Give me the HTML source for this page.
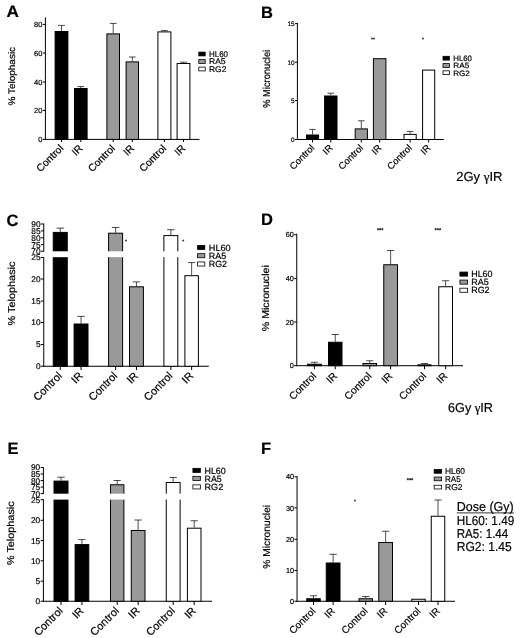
<!DOCTYPE html>
<html><head><meta charset="utf-8"><title>Figure</title>
<style>
html,body{margin:0;padding:0;background:#fff;-webkit-font-smoothing:antialiased;}
svg{display:block;will-change:transform;transform:translateZ(0);font-family:'Liberation Sans', Arial, Helvetica, sans-serif;}
text{stroke:#000;stroke-width:0.2px;text-rendering:geometricPrecision;}
</style></head>
<body>
<svg width="520" height="638" viewBox="0 0 520 638">
<rect x="0" y="0" width="520" height="638" fill="#fff"/>
<text x="6.6" y="17.2" font-size="16.5" text-anchor="start" font-weight="bold" fill="#000" textLength="12.4" lengthAdjust="spacingAndGlyphs">A</text>
<line x1="45.4" y1="17.4" x2="45.4" y2="139.9" stroke="#000" stroke-width="1.0"/>
<line x1="44.9" y1="139.4" x2="199.5" y2="139.4" stroke="#000" stroke-width="1.0"/>
<line x1="42.9" y1="24.4" x2="45.4" y2="24.4" stroke="#000" stroke-width="1.0"/>
<text x="42.4" y="27.099999999999998" font-size="7.5" text-anchor="end" font-weight="normal" fill="#000">80</text>
<line x1="42.9" y1="53" x2="45.4" y2="53" stroke="#000" stroke-width="1.0"/>
<text x="42.4" y="55.7" font-size="7.5" text-anchor="end" font-weight="normal" fill="#000">60</text>
<line x1="42.9" y1="82" x2="45.4" y2="82" stroke="#000" stroke-width="1.0"/>
<text x="42.4" y="84.7" font-size="7.5" text-anchor="end" font-weight="normal" fill="#000">40</text>
<line x1="42.9" y1="110.4" x2="45.4" y2="110.4" stroke="#000" stroke-width="1.0"/>
<text x="42.4" y="113.10000000000001" font-size="7.5" text-anchor="end" font-weight="normal" fill="#000">20</text>
<line x1="42.9" y1="139.4" x2="45.4" y2="139.4" stroke="#000" stroke-width="1.0"/>
<text x="42.4" y="142.1" font-size="7.5" text-anchor="end" font-weight="normal" fill="#000">0</text>
<text x="15.4" y="76.25" font-size="9.5" text-anchor="middle" font-weight="normal" fill="#000" transform="rotate(-90 15.4 76.25)" textLength="58.7" lengthAdjust="spacingAndGlyphs">% Telophasic</text>
<line x1="61.5" y1="31" x2="61.5" y2="25.4" stroke="#000" stroke-width="0.7"/>
<line x1="58.05" y1="25.4" x2="64.95" y2="25.4" stroke="#000" stroke-width="0.7"/>
<rect x="55.1" y="31.5" width="12.800000000000004" height="107.9" fill="#000" stroke="#000" stroke-width="1.0"/>
<line x1="80.8" y1="88" x2="80.8" y2="86.6" stroke="#000" stroke-width="0.7"/>
<line x1="77.4" y1="86.6" x2="84.19999999999999" y2="86.6" stroke="#000" stroke-width="0.7"/>
<rect x="74.5" y="88.5" width="12.599999999999994" height="50.900000000000006" fill="#000" stroke="#000" stroke-width="1.0"/>
<line x1="113.2" y1="33.4" x2="113.2" y2="23.4" stroke="#000" stroke-width="0.7"/>
<line x1="109.80000000000001" y1="23.4" x2="116.6" y2="23.4" stroke="#000" stroke-width="0.7"/>
<rect x="106.9" y="33.9" width="12.599999999999994" height="105.5" fill="#999999" stroke="#000" stroke-width="1.0"/>
<line x1="132.3" y1="61.4" x2="132.3" y2="57" stroke="#000" stroke-width="0.7"/>
<line x1="128.95000000000002" y1="57" x2="135.65" y2="57" stroke="#000" stroke-width="0.7"/>
<rect x="126.1" y="61.9" width="12.400000000000006" height="77.5" fill="#999999" stroke="#000" stroke-width="1.0"/>
<line x1="164.4" y1="31.4" x2="164.4" y2="30.6" stroke="#000" stroke-width="0.7"/>
<line x1="160.9" y1="30.6" x2="167.9" y2="30.6" stroke="#000" stroke-width="0.7"/>
<rect x="157.9" y="31.9" width="13.0" height="107.5" fill="#fff" stroke="#000" stroke-width="1.0"/>
<line x1="183.5" y1="63" x2="183.5" y2="62.2" stroke="#000" stroke-width="0.7"/>
<line x1="180.05" y1="62.2" x2="186.95" y2="62.2" stroke="#000" stroke-width="0.7"/>
<rect x="177.1" y="63.5" width="12.800000000000011" height="75.9" fill="#fff" stroke="#000" stroke-width="1.0"/>
<line x1="61.5" y1="139.4" x2="61.5" y2="142" stroke="#000" stroke-width="1.0"/>
<line x1="80.8" y1="139.4" x2="80.8" y2="142" stroke="#000" stroke-width="1.0"/>
<line x1="113.2" y1="139.4" x2="113.2" y2="142" stroke="#000" stroke-width="1.0"/>
<line x1="132.3" y1="139.4" x2="132.3" y2="142" stroke="#000" stroke-width="1.0"/>
<line x1="164.4" y1="139.4" x2="164.4" y2="142" stroke="#000" stroke-width="1.0"/>
<line x1="183.5" y1="139.4" x2="183.5" y2="142" stroke="#000" stroke-width="1.0"/>
<text x="64.0" y="149.0" font-size="10.3" text-anchor="end" font-weight="normal" fill="#000" transform="rotate(-45 64.0 149.0)">Control</text>
<text x="83.3" y="149.0" font-size="10.3" text-anchor="end" font-weight="normal" fill="#000" transform="rotate(-45 83.3 149.0)">IR</text>
<text x="115.7" y="149.0" font-size="10.3" text-anchor="end" font-weight="normal" fill="#000" transform="rotate(-45 115.7 149.0)">Control</text>
<text x="134.8" y="149.0" font-size="10.3" text-anchor="end" font-weight="normal" fill="#000" transform="rotate(-45 134.8 149.0)">IR</text>
<text x="166.9" y="149.0" font-size="10.3" text-anchor="end" font-weight="normal" fill="#000" transform="rotate(-45 166.9 149.0)">Control</text>
<text x="186.0" y="149.0" font-size="10.3" text-anchor="end" font-weight="normal" fill="#000" transform="rotate(-45 186.0 149.0)">IR</text>
<rect x="198.8" y="52.1" width="6.4" height="3.8" fill="#000" stroke="#000" stroke-width="0.8"/>
<text x="209" y="56.988" font-size="8.3" text-anchor="start" font-weight="normal" fill="#000" textLength="19" lengthAdjust="spacingAndGlyphs">HL60</text>
<rect x="198.8" y="59.6" width="6.4" height="3.8" fill="#999999" stroke="#000" stroke-width="0.8"/>
<text x="209" y="64.488" font-size="8.3" text-anchor="start" font-weight="normal" fill="#000" textLength="16.6" lengthAdjust="spacingAndGlyphs">RA5</text>
<rect x="198.8" y="67.10000000000001" width="6.4" height="3.8" fill="#fff" stroke="#000" stroke-width="0.8"/>
<text x="209" y="71.988" font-size="8.3" text-anchor="start" font-weight="normal" fill="#000" textLength="17.4" lengthAdjust="spacingAndGlyphs">RG2</text>
<text x="261" y="17.6" font-size="16.5" text-anchor="start" font-weight="bold" fill="#000">B</text>
<line x1="297.4" y1="23" x2="297.4" y2="140.0" stroke="#000" stroke-width="1.0"/>
<line x1="296.9" y1="139.5" x2="443.8" y2="139.5" stroke="#000" stroke-width="1.0"/>
<line x1="295.0" y1="23.6" x2="297.4" y2="23.6" stroke="#000" stroke-width="1.0"/>
<text x="294.5" y="25.904" font-size="6.4" text-anchor="end" font-weight="normal" fill="#000">15</text>
<line x1="295.0" y1="62.2" x2="297.4" y2="62.2" stroke="#000" stroke-width="1.0"/>
<text x="294.5" y="64.504" font-size="6.4" text-anchor="end" font-weight="normal" fill="#000">10</text>
<line x1="295.0" y1="100.6" x2="297.4" y2="100.6" stroke="#000" stroke-width="1.0"/>
<text x="294.5" y="102.904" font-size="6.4" text-anchor="end" font-weight="normal" fill="#000">5</text>
<line x1="295.0" y1="139.5" x2="297.4" y2="139.5" stroke="#000" stroke-width="1.0"/>
<text x="294.5" y="141.804" font-size="6.4" text-anchor="end" font-weight="normal" fill="#000">0</text>
<text x="269.6" y="78.8" font-size="10" text-anchor="middle" font-weight="normal" fill="#000" transform="rotate(-90 269.6 78.8)" textLength="58" lengthAdjust="spacingAndGlyphs">% Micronuclei</text>
<line x1="312.55" y1="134.5" x2="312.55" y2="129.4" stroke="#000" stroke-width="0.7"/>
<line x1="309.275" y1="129.4" x2="315.82500000000005" y2="129.4" stroke="#000" stroke-width="0.7"/>
<rect x="306.5" y="135.0" width="12.100000000000023" height="4.5" fill="#000" stroke="#000" stroke-width="1.0"/>
<line x1="330.8" y1="95.5" x2="330.8" y2="93.2" stroke="#000" stroke-width="0.7"/>
<line x1="327.45000000000005" y1="93.2" x2="334.15" y2="93.2" stroke="#000" stroke-width="0.7"/>
<rect x="324.6" y="96.0" width="12.399999999999977" height="43.5" fill="#000" stroke="#000" stroke-width="1.0"/>
<line x1="361.29999999999995" y1="128.4" x2="361.29999999999995" y2="120.8" stroke="#000" stroke-width="0.7"/>
<line x1="357.99999999999994" y1="120.8" x2="364.59999999999997" y2="120.8" stroke="#000" stroke-width="0.7"/>
<rect x="355.2" y="128.9" width="12.199999999999989" height="10.599999999999994" fill="#999999" stroke="#000" stroke-width="1.0"/>
<rect x="373.4" y="58.7" width="12.5" height="80.8" fill="#999999" stroke="#000" stroke-width="1.0"/>
<line x1="410.1" y1="133.9" x2="410.1" y2="131.4" stroke="#000" stroke-width="0.7"/>
<line x1="406.8" y1="131.4" x2="413.40000000000003" y2="131.4" stroke="#000" stroke-width="0.7"/>
<rect x="404.0" y="134.4" width="12.199999999999989" height="5.099999999999994" fill="#fff" stroke="#000" stroke-width="1.0"/>
<rect x="422.6" y="70.1" width="12.099999999999966" height="69.4" fill="#fff" stroke="#000" stroke-width="1.0"/>
<line x1="312.55" y1="139.5" x2="312.55" y2="142.5" stroke="#000" stroke-width="1.0"/>
<line x1="330.8" y1="139.5" x2="330.8" y2="142.5" stroke="#000" stroke-width="1.0"/>
<line x1="361.29999999999995" y1="139.5" x2="361.29999999999995" y2="142.5" stroke="#000" stroke-width="1.0"/>
<line x1="379.65" y1="139.5" x2="379.65" y2="142.5" stroke="#000" stroke-width="1.0"/>
<line x1="410.1" y1="139.5" x2="410.1" y2="142.5" stroke="#000" stroke-width="1.0"/>
<line x1="428.65" y1="139.5" x2="428.65" y2="142.5" stroke="#000" stroke-width="1.0"/>
<text x="315.05" y="148.5" font-size="9.5" text-anchor="end" font-weight="normal" fill="#000" transform="rotate(-45 315.05 148.5)">Control</text>
<text x="333.3" y="148.5" font-size="9.5" text-anchor="end" font-weight="normal" fill="#000" transform="rotate(-45 333.3 148.5)">IR</text>
<text x="363.79999999999995" y="148.5" font-size="9.5" text-anchor="end" font-weight="normal" fill="#000" transform="rotate(-45 363.79999999999995 148.5)">Control</text>
<text x="382.15" y="148.5" font-size="9.5" text-anchor="end" font-weight="normal" fill="#000" transform="rotate(-45 382.15 148.5)">IR</text>
<text x="412.6" y="148.5" font-size="9.5" text-anchor="end" font-weight="normal" fill="#000" transform="rotate(-45 412.6 148.5)">Control</text>
<text x="431.15" y="148.5" font-size="9.5" text-anchor="end" font-weight="normal" fill="#000" transform="rotate(-45 431.15 148.5)">IR</text>
<rect x="443.0" y="56.300000000000004" width="6.4" height="3.8" fill="#000" stroke="#000" stroke-width="0.8"/>
<text x="453.3" y="61.008" font-size="7.8" text-anchor="start" font-weight="normal" fill="#000" textLength="18.6" lengthAdjust="spacingAndGlyphs">HL60</text>
<rect x="443.0" y="63.6" width="6.4" height="3.8" fill="#999999" stroke="#000" stroke-width="0.8"/>
<text x="453.3" y="68.30799999999999" font-size="7.8" text-anchor="start" font-weight="normal" fill="#000" textLength="16" lengthAdjust="spacingAndGlyphs">RA5</text>
<rect x="443.0" y="70.80000000000001" width="6.4" height="3.8" fill="#fff" stroke="#000" stroke-width="0.8"/>
<text x="453.3" y="75.50800000000001" font-size="7.8" text-anchor="start" font-weight="normal" fill="#000" textLength="16.5" lengthAdjust="spacingAndGlyphs">RG2</text>
<text x="373" y="41" font-size="5" text-anchor="middle" font-weight="normal" fill="#000">**</text>
<text x="423.1" y="40.5" font-size="5" text-anchor="middle" font-weight="normal" fill="#000">*</text>
<text x="456.25" y="181.25" font-size="13" text-anchor="start" font-weight="normal" fill="#000" textLength="46.25" lengthAdjust="spacingAndGlyphs">2Gy <tspan font-family="Liberation Serif, serif">γ</tspan>IR</text>
<text x="6.6" y="225.6" font-size="16.5" text-anchor="start" font-weight="bold" fill="#000">C</text>
<line x1="43.75" y1="223.5" x2="43.75" y2="251.7" stroke="#000" stroke-width="1.0"/>
<line x1="43.75" y1="257.1" x2="43.75" y2="366.75" stroke="#000" stroke-width="1.0"/>
<line x1="43.25" y1="366.25" x2="208.8" y2="366.25" stroke="#000" stroke-width="1.0"/>
<line x1="40.95" y1="224" x2="43.75" y2="224" stroke="#000" stroke-width="1.0"/>
<text x="40.550000000000004" y="226.988" font-size="8.3" text-anchor="end" font-weight="normal" fill="#000">90</text>
<line x1="40.95" y1="230.9" x2="43.75" y2="230.9" stroke="#000" stroke-width="1.0"/>
<text x="40.550000000000004" y="233.888" font-size="8.3" text-anchor="end" font-weight="normal" fill="#000">85</text>
<line x1="40.95" y1="237.75" x2="43.75" y2="237.75" stroke="#000" stroke-width="1.0"/>
<text x="40.550000000000004" y="240.738" font-size="8.3" text-anchor="end" font-weight="normal" fill="#000">80</text>
<line x1="40.95" y1="244.6" x2="43.75" y2="244.6" stroke="#000" stroke-width="1.0"/>
<text x="40.550000000000004" y="247.588" font-size="8.3" text-anchor="end" font-weight="normal" fill="#000">75</text>
<line x1="40.95" y1="251.25" x2="43.75" y2="251.25" stroke="#000" stroke-width="1.0"/>
<text x="40.550000000000004" y="254.238" font-size="8.3" text-anchor="end" font-weight="normal" fill="#000">70</text>
<line x1="40.95" y1="257.5" x2="43.75" y2="257.5" stroke="#000" stroke-width="1.0"/>
<text x="40.550000000000004" y="260.488" font-size="8.3" text-anchor="end" font-weight="normal" fill="#000">25</text>
<line x1="40.95" y1="279" x2="43.75" y2="279" stroke="#000" stroke-width="1.0"/>
<text x="40.550000000000004" y="281.988" font-size="8.3" text-anchor="end" font-weight="normal" fill="#000">20</text>
<line x1="40.95" y1="301" x2="43.75" y2="301" stroke="#000" stroke-width="1.0"/>
<text x="40.550000000000004" y="303.988" font-size="8.3" text-anchor="end" font-weight="normal" fill="#000">15</text>
<line x1="40.95" y1="322.5" x2="43.75" y2="322.5" stroke="#000" stroke-width="1.0"/>
<text x="40.550000000000004" y="325.488" font-size="8.3" text-anchor="end" font-weight="normal" fill="#000">10</text>
<line x1="40.95" y1="344.5" x2="43.75" y2="344.5" stroke="#000" stroke-width="1.0"/>
<text x="40.550000000000004" y="347.488" font-size="8.3" text-anchor="end" font-weight="normal" fill="#000">5</text>
<line x1="40.95" y1="366.25" x2="43.75" y2="366.25" stroke="#000" stroke-width="1.0"/>
<text x="40.550000000000004" y="369.238" font-size="8.3" text-anchor="end" font-weight="normal" fill="#000">0</text>
<text x="14.6" y="293.5" font-size="10" text-anchor="middle" font-weight="normal" fill="#000" transform="rotate(-90 14.6 293.5)" textLength="63.9" lengthAdjust="spacingAndGlyphs">% Telophasic</text>
<line x1="60.25" y1="231.9" x2="60.25" y2="228.1" stroke="#000" stroke-width="0.7"/>
<line x1="56.5" y1="228.1" x2="64.0" y2="228.1" stroke="#000" stroke-width="0.7"/>
<rect x="53.25" y="232.4" width="14.0" height="133.85" fill="#000" stroke="#000" stroke-width="1.0"/>
<line x1="81.05" y1="323.5" x2="81.05" y2="316.4" stroke="#000" stroke-width="0.7"/>
<line x1="77.32499999999999" y1="316.4" x2="84.775" y2="316.4" stroke="#000" stroke-width="0.7"/>
<rect x="74.1" y="324.0" width="13.900000000000006" height="42.25" fill="#000" stroke="#000" stroke-width="1.0"/>
<line x1="115.6" y1="232.7" x2="115.6" y2="227.5" stroke="#000" stroke-width="0.7"/>
<line x1="111.85" y1="227.5" x2="119.35" y2="227.5" stroke="#000" stroke-width="0.7"/>
<rect x="108.6" y="233.2" width="14.0" height="133.05" fill="#999999" stroke="#000" stroke-width="1.0"/>
<line x1="136.45" y1="286.3" x2="136.45" y2="281.9" stroke="#000" stroke-width="0.7"/>
<line x1="132.725" y1="281.9" x2="140.17499999999998" y2="281.9" stroke="#000" stroke-width="0.7"/>
<rect x="129.5" y="286.8" width="13.900000000000006" height="79.44999999999999" fill="#999999" stroke="#000" stroke-width="1.0"/>
<line x1="170.85000000000002" y1="235.1" x2="170.85000000000002" y2="229.7" stroke="#000" stroke-width="0.7"/>
<line x1="167.12500000000003" y1="229.7" x2="174.57500000000002" y2="229.7" stroke="#000" stroke-width="0.7"/>
<rect x="163.9" y="235.6" width="13.900000000000006" height="130.65" fill="#fff" stroke="#000" stroke-width="1.0"/>
<line x1="191.65" y1="275.2" x2="191.65" y2="262.6" stroke="#000" stroke-width="0.7"/>
<line x1="188.025" y1="262.6" x2="195.275" y2="262.6" stroke="#000" stroke-width="0.7"/>
<rect x="184.9" y="275.7" width="13.5" height="90.55000000000001" fill="#fff" stroke="#000" stroke-width="1.0"/>
<rect x="51.25" y="251.3" width="18.0" height="5.9" fill="#fff"/>
<rect x="106.6" y="251.3" width="18.0" height="5.9" fill="#fff"/>
<rect x="161.9" y="251.3" width="17.900000000000006" height="5.9" fill="#fff"/>
<line x1="60.25" y1="366.25" x2="60.25" y2="370" stroke="#000" stroke-width="1.0"/>
<line x1="81.05" y1="366.25" x2="81.05" y2="370" stroke="#000" stroke-width="1.0"/>
<line x1="115.6" y1="366.25" x2="115.6" y2="370" stroke="#000" stroke-width="1.0"/>
<line x1="136.45" y1="366.25" x2="136.45" y2="370" stroke="#000" stroke-width="1.0"/>
<line x1="170.85000000000002" y1="366.25" x2="170.85000000000002" y2="370" stroke="#000" stroke-width="1.0"/>
<line x1="191.65" y1="366.25" x2="191.65" y2="370" stroke="#000" stroke-width="1.0"/>
<text x="62.75" y="376.5" font-size="11" text-anchor="end" font-weight="normal" fill="#000" transform="rotate(-45 62.75 376.5)">Control</text>
<text x="83.55" y="376.5" font-size="11" text-anchor="end" font-weight="normal" fill="#000" transform="rotate(-45 83.55 376.5)">IR</text>
<text x="118.1" y="376.5" font-size="11" text-anchor="end" font-weight="normal" fill="#000" transform="rotate(-45 118.1 376.5)">Control</text>
<text x="138.95" y="376.5" font-size="11" text-anchor="end" font-weight="normal" fill="#000" transform="rotate(-45 138.95 376.5)">IR</text>
<text x="173.35000000000002" y="376.5" font-size="11" text-anchor="end" font-weight="normal" fill="#000" transform="rotate(-45 173.35000000000002 376.5)">Control</text>
<text x="194.15" y="376.5" font-size="11" text-anchor="end" font-weight="normal" fill="#000" transform="rotate(-45 194.15 376.5)">IR</text>
<rect x="197.6" y="245.45000000000002" width="7.2" height="4.1000000000000005" fill="#000" stroke="#000" stroke-width="0.8"/>
<text x="208.8" y="250.74" font-size="9" text-anchor="start" font-weight="normal" fill="#000" textLength="21.9" lengthAdjust="spacingAndGlyphs">HL60</text>
<rect x="197.6" y="253.65" width="7.2" height="4.1000000000000005" fill="#999999" stroke="#000" stroke-width="0.8"/>
<text x="208.8" y="258.94" font-size="9" text-anchor="start" font-weight="normal" fill="#000" textLength="17.5" lengthAdjust="spacingAndGlyphs">RA5</text>
<rect x="197.6" y="261.95" width="7.2" height="4.1000000000000005" fill="#fff" stroke="#000" stroke-width="0.8"/>
<text x="208.8" y="267.24" font-size="9" text-anchor="start" font-weight="normal" fill="#000" textLength="18.1" lengthAdjust="spacingAndGlyphs">RG2</text>
<text x="126.1" y="242.5" font-size="5" text-anchor="middle" font-weight="normal" fill="#000">*</text>
<text x="183.2" y="242.5" font-size="5" text-anchor="middle" font-weight="normal" fill="#000">*</text>
<text x="261" y="225.4" font-size="16.5" text-anchor="start" font-weight="bold" fill="#000">D</text>
<line x1="296.75" y1="233.7" x2="296.75" y2="366.2" stroke="#000" stroke-width="1.0"/>
<line x1="296.25" y1="365.7" x2="463" y2="365.7" stroke="#000" stroke-width="1.0"/>
<line x1="294.15" y1="234.7" x2="296.75" y2="234.7" stroke="#000" stroke-width="1.0"/>
<text x="293.75" y="237.32799999999997" font-size="7.3" text-anchor="end" font-weight="normal" fill="#000">60</text>
<line x1="294.15" y1="278.6" x2="296.75" y2="278.6" stroke="#000" stroke-width="1.0"/>
<text x="293.75" y="281.228" font-size="7.3" text-anchor="end" font-weight="normal" fill="#000">40</text>
<line x1="294.15" y1="322" x2="296.75" y2="322" stroke="#000" stroke-width="1.0"/>
<text x="293.75" y="324.628" font-size="7.3" text-anchor="end" font-weight="normal" fill="#000">20</text>
<line x1="294.15" y1="365.7" x2="296.75" y2="365.7" stroke="#000" stroke-width="1.0"/>
<text x="293.75" y="368.328" font-size="7.3" text-anchor="end" font-weight="normal" fill="#000">0</text>
<text x="269.2" y="298.2" font-size="10" text-anchor="middle" font-weight="normal" fill="#000" transform="rotate(-90 269.2 298.2)" textLength="66" lengthAdjust="spacingAndGlyphs">% Micronuclei</text>
<line x1="314.375" y1="363.75" x2="314.375" y2="362.25" stroke="#000" stroke-width="0.7"/>
<line x1="310.6875" y1="362.25" x2="318.0625" y2="362.25" stroke="#000" stroke-width="0.7"/>
<rect x="307.5" y="364.25" width="13.75" height="1.4499999999999886" fill="#000" stroke="#000" stroke-width="1.0"/>
<line x1="335.25" y1="341.75" x2="335.25" y2="334.5" stroke="#000" stroke-width="0.7"/>
<line x1="331.625" y1="334.5" x2="338.875" y2="334.5" stroke="#000" stroke-width="0.7"/>
<rect x="328.5" y="342.25" width="13.5" height="23.44999999999999" fill="#000" stroke="#000" stroke-width="1.0"/>
<line x1="369.75" y1="363" x2="369.75" y2="360.75" stroke="#000" stroke-width="0.7"/>
<line x1="366.125" y1="360.75" x2="373.375" y2="360.75" stroke="#000" stroke-width="0.7"/>
<rect x="363.0" y="363.5" width="13.5" height="2.1999999999999886" fill="#999999" stroke="#000" stroke-width="1.0"/>
<line x1="390.625" y1="264.25" x2="390.625" y2="250.5" stroke="#000" stroke-width="0.7"/>
<line x1="386.9375" y1="250.5" x2="394.3125" y2="250.5" stroke="#000" stroke-width="0.7"/>
<rect x="383.75" y="264.75" width="13.75" height="100.94999999999999" fill="#999999" stroke="#000" stroke-width="1.0"/>
<line x1="424.5" y1="364.3" x2="424.5" y2="363.5" stroke="#000" stroke-width="0.7"/>
<line x1="421.0" y1="363.5" x2="428.0" y2="363.5" stroke="#000" stroke-width="0.7"/>
<rect x="418.0" y="364.8" width="13.0" height="0.8999999999999773" fill="#fff" stroke="#000" stroke-width="1.0"/>
<line x1="445.625" y1="286.25" x2="445.625" y2="280.75" stroke="#000" stroke-width="0.7"/>
<line x1="441.9375" y1="280.75" x2="449.3125" y2="280.75" stroke="#000" stroke-width="0.7"/>
<rect x="438.75" y="286.75" width="13.75" height="78.94999999999999" fill="#fff" stroke="#000" stroke-width="1.0"/>
<line x1="314.375" y1="365.7" x2="314.375" y2="369.25" stroke="#000" stroke-width="1.0"/>
<line x1="335.25" y1="365.7" x2="335.25" y2="369.25" stroke="#000" stroke-width="1.0"/>
<line x1="369.75" y1="365.7" x2="369.75" y2="369.25" stroke="#000" stroke-width="1.0"/>
<line x1="390.625" y1="365.7" x2="390.625" y2="369.25" stroke="#000" stroke-width="1.0"/>
<line x1="424.5" y1="365.7" x2="424.5" y2="369.25" stroke="#000" stroke-width="1.0"/>
<line x1="445.625" y1="365.7" x2="445.625" y2="369.25" stroke="#000" stroke-width="1.0"/>
<text x="316.875" y="376.7" font-size="10.4" text-anchor="end" font-weight="normal" fill="#000" transform="rotate(-45 316.875 376.7)">Control</text>
<text x="337.75" y="376.7" font-size="10.4" text-anchor="end" font-weight="normal" fill="#000" transform="rotate(-45 337.75 376.7)">IR</text>
<text x="372.25" y="376.7" font-size="10.4" text-anchor="end" font-weight="normal" fill="#000" transform="rotate(-45 372.25 376.7)">Control</text>
<text x="393.125" y="376.7" font-size="10.4" text-anchor="end" font-weight="normal" fill="#000" transform="rotate(-45 393.125 376.7)">IR</text>
<text x="427.0" y="376.7" font-size="10.4" text-anchor="end" font-weight="normal" fill="#000" transform="rotate(-45 427.0 376.7)">Control</text>
<text x="448.125" y="376.7" font-size="10.4" text-anchor="end" font-weight="normal" fill="#000" transform="rotate(-45 448.125 376.7)">IR</text>
<rect x="459.9" y="272.05" width="7.7" height="4.1000000000000005" fill="#000" stroke="#000" stroke-width="0.8"/>
<text x="471.25" y="277.34000000000003" font-size="9" text-anchor="start" font-weight="normal" fill="#000" textLength="21.25" lengthAdjust="spacingAndGlyphs">HL60</text>
<rect x="459.9" y="280.05" width="7.7" height="4.1000000000000005" fill="#999999" stroke="#000" stroke-width="0.8"/>
<text x="471.25" y="285.34000000000003" font-size="9" text-anchor="start" font-weight="normal" fill="#000" textLength="17.5" lengthAdjust="spacingAndGlyphs">RA5</text>
<rect x="459.9" y="288.2" width="7.7" height="4.1000000000000005" fill="#fff" stroke="#000" stroke-width="0.8"/>
<text x="471.25" y="293.49" font-size="9" text-anchor="start" font-weight="normal" fill="#000" textLength="18.25" lengthAdjust="spacingAndGlyphs">RG2</text>
<text x="380.2" y="231.6" font-size="5.5" text-anchor="middle" font-weight="normal" fill="#000" textLength="6.6" lengthAdjust="spacingAndGlyphs">***</text>
<text x="437.9" y="231.6" font-size="5.5" text-anchor="middle" font-weight="normal" fill="#000" textLength="6.6" lengthAdjust="spacingAndGlyphs">***</text>
<text x="448" y="412" font-size="13" text-anchor="start" font-weight="normal" fill="#000" textLength="45" lengthAdjust="spacingAndGlyphs">6Gy <tspan font-family="Liberation Serif, serif">γ</tspan>IR</text>
<text x="7.4" y="453.6" font-size="16.5" text-anchor="start" font-weight="bold" fill="#000">E</text>
<line x1="43.4" y1="467.1" x2="43.4" y2="494" stroke="#000" stroke-width="1.0"/>
<line x1="43.4" y1="499.3" x2="43.4" y2="601.75" stroke="#000" stroke-width="1.0"/>
<line x1="42.9" y1="601.25" x2="212" y2="601.25" stroke="#000" stroke-width="1.0"/>
<line x1="40.6" y1="467.5" x2="43.4" y2="467.5" stroke="#000" stroke-width="1.0"/>
<text x="40.2" y="470.488" font-size="8.3" text-anchor="end" font-weight="normal" fill="#000">90</text>
<line x1="40.6" y1="474" x2="43.4" y2="474" stroke="#000" stroke-width="1.0"/>
<text x="40.2" y="476.988" font-size="8.3" text-anchor="end" font-weight="normal" fill="#000">85</text>
<line x1="40.6" y1="480.6" x2="43.4" y2="480.6" stroke="#000" stroke-width="1.0"/>
<text x="40.2" y="483.588" font-size="8.3" text-anchor="end" font-weight="normal" fill="#000">80</text>
<line x1="40.6" y1="487.1" x2="43.4" y2="487.1" stroke="#000" stroke-width="1.0"/>
<text x="40.2" y="490.088" font-size="8.3" text-anchor="end" font-weight="normal" fill="#000">75</text>
<line x1="40.6" y1="493.6" x2="43.4" y2="493.6" stroke="#000" stroke-width="1.0"/>
<text x="40.2" y="496.588" font-size="8.3" text-anchor="end" font-weight="normal" fill="#000">70</text>
<line x1="40.6" y1="499.7" x2="43.4" y2="499.7" stroke="#000" stroke-width="1.0"/>
<text x="40.2" y="502.688" font-size="8.3" text-anchor="end" font-weight="normal" fill="#000">25</text>
<line x1="40.6" y1="520.3" x2="43.4" y2="520.3" stroke="#000" stroke-width="1.0"/>
<text x="40.2" y="523.288" font-size="8.3" text-anchor="end" font-weight="normal" fill="#000">20</text>
<line x1="40.6" y1="540.6" x2="43.4" y2="540.6" stroke="#000" stroke-width="1.0"/>
<text x="40.2" y="543.5880000000001" font-size="8.3" text-anchor="end" font-weight="normal" fill="#000">15</text>
<line x1="40.6" y1="560.8" x2="43.4" y2="560.8" stroke="#000" stroke-width="1.0"/>
<text x="40.2" y="563.788" font-size="8.3" text-anchor="end" font-weight="normal" fill="#000">10</text>
<line x1="40.6" y1="581.2" x2="43.4" y2="581.2" stroke="#000" stroke-width="1.0"/>
<text x="40.2" y="584.1880000000001" font-size="8.3" text-anchor="end" font-weight="normal" fill="#000">5</text>
<line x1="40.6" y1="601.25" x2="43.4" y2="601.25" stroke="#000" stroke-width="1.0"/>
<text x="40.2" y="604.238" font-size="8.3" text-anchor="end" font-weight="normal" fill="#000">0</text>
<text x="14.2" y="533.2" font-size="10" text-anchor="middle" font-weight="normal" fill="#000" transform="rotate(-90 14.2 533.2)" textLength="63.7" lengthAdjust="spacingAndGlyphs">% Telophasic</text>
<line x1="61.0" y1="480.6" x2="61.0" y2="477.2" stroke="#000" stroke-width="0.7"/>
<line x1="57.25" y1="477.2" x2="64.75" y2="477.2" stroke="#000" stroke-width="0.7"/>
<rect x="54.0" y="481.1" width="14.0" height="120.14999999999998" fill="#000" stroke="#000" stroke-width="1.0"/>
<line x1="81.94999999999999" y1="544.1" x2="81.94999999999999" y2="539.6" stroke="#000" stroke-width="0.7"/>
<line x1="78.27499999999999" y1="539.6" x2="85.62499999999999" y2="539.6" stroke="#000" stroke-width="0.7"/>
<rect x="75.1" y="544.6" width="13.700000000000003" height="56.64999999999998" fill="#000" stroke="#000" stroke-width="1.0"/>
<line x1="117.2" y1="484.25" x2="117.2" y2="480.5" stroke="#000" stroke-width="0.7"/>
<line x1="113.6" y1="480.5" x2="120.80000000000001" y2="480.5" stroke="#000" stroke-width="0.7"/>
<rect x="110.5" y="484.75" width="13.400000000000006" height="116.5" fill="#999999" stroke="#000" stroke-width="1.0"/>
<line x1="138.125" y1="530" x2="138.125" y2="520" stroke="#000" stroke-width="0.7"/>
<line x1="134.4375" y1="520" x2="141.8125" y2="520" stroke="#000" stroke-width="0.7"/>
<rect x="131.25" y="530.5" width="13.75" height="70.75" fill="#999999" stroke="#000" stroke-width="1.0"/>
<line x1="173.175" y1="482" x2="173.175" y2="477.5" stroke="#000" stroke-width="0.7"/>
<line x1="169.4625" y1="477.5" x2="176.88750000000002" y2="477.5" stroke="#000" stroke-width="0.7"/>
<rect x="166.25" y="482.5" width="13.849999999999994" height="118.75" fill="#fff" stroke="#000" stroke-width="1.0"/>
<line x1="194.2" y1="527.7" x2="194.2" y2="520.75" stroke="#000" stroke-width="0.7"/>
<line x1="190.54999999999998" y1="520.75" x2="197.85" y2="520.75" stroke="#000" stroke-width="0.7"/>
<rect x="187.4" y="528.2" width="13.599999999999994" height="73.04999999999995" fill="#fff" stroke="#000" stroke-width="1.0"/>
<rect x="52.0" y="493.7" width="18.0" height="5.9" fill="#fff"/>
<rect x="108.5" y="493.7" width="17.400000000000006" height="5.9" fill="#fff"/>
<rect x="164.25" y="493.7" width="17.849999999999994" height="5.9" fill="#fff"/>
<line x1="61.0" y1="601.25" x2="61.0" y2="605" stroke="#000" stroke-width="1.0"/>
<line x1="81.94999999999999" y1="601.25" x2="81.94999999999999" y2="605" stroke="#000" stroke-width="1.0"/>
<line x1="117.2" y1="601.25" x2="117.2" y2="605" stroke="#000" stroke-width="1.0"/>
<line x1="138.125" y1="601.25" x2="138.125" y2="605" stroke="#000" stroke-width="1.0"/>
<line x1="173.175" y1="601.25" x2="173.175" y2="605" stroke="#000" stroke-width="1.0"/>
<line x1="194.2" y1="601.25" x2="194.2" y2="605" stroke="#000" stroke-width="1.0"/>
<text x="63.5" y="611.5" font-size="11" text-anchor="end" font-weight="normal" fill="#000" transform="rotate(-45 63.5 611.5)">Control</text>
<text x="84.44999999999999" y="611.5" font-size="11" text-anchor="end" font-weight="normal" fill="#000" transform="rotate(-45 84.44999999999999 611.5)">IR</text>
<text x="119.7" y="611.5" font-size="11" text-anchor="end" font-weight="normal" fill="#000" transform="rotate(-45 119.7 611.5)">Control</text>
<text x="140.625" y="611.5" font-size="11" text-anchor="end" font-weight="normal" fill="#000" transform="rotate(-45 140.625 611.5)">IR</text>
<text x="175.675" y="611.5" font-size="11" text-anchor="end" font-weight="normal" fill="#000" transform="rotate(-45 175.675 611.5)">Control</text>
<text x="196.7" y="611.5" font-size="11" text-anchor="end" font-weight="normal" fill="#000" transform="rotate(-45 196.7 611.5)">IR</text>
<rect x="192.9" y="468.34999999999997" width="7.45" height="4.1000000000000005" fill="#000" stroke="#000" stroke-width="0.8"/>
<text x="204.5" y="473.64" font-size="9" text-anchor="start" font-weight="normal" fill="#000" textLength="21.25" lengthAdjust="spacingAndGlyphs">HL60</text>
<rect x="192.9" y="476.34999999999997" width="7.45" height="4.1000000000000005" fill="#999999" stroke="#000" stroke-width="0.8"/>
<text x="204.5" y="481.64" font-size="9" text-anchor="start" font-weight="normal" fill="#000" textLength="17.25" lengthAdjust="spacingAndGlyphs">RA5</text>
<rect x="192.9" y="484.84999999999997" width="7.45" height="4.1000000000000005" fill="#fff" stroke="#000" stroke-width="0.8"/>
<text x="204.5" y="490.14" font-size="9" text-anchor="start" font-weight="normal" fill="#000" textLength="18.75" lengthAdjust="spacingAndGlyphs">RG2</text>
<text x="261" y="453.6" font-size="16.5" text-anchor="start" font-weight="bold" fill="#000">F</text>
<line x1="297.05" y1="476.2" x2="297.05" y2="601.75" stroke="#000" stroke-width="1.0"/>
<line x1="296.55" y1="601.25" x2="455" y2="601.25" stroke="#000" stroke-width="1.0"/>
<line x1="294.45" y1="476.8" x2="297.05" y2="476.8" stroke="#000" stroke-width="1.0"/>
<text x="294.05" y="479.428" font-size="7.3" text-anchor="end" font-weight="normal" fill="#000">40</text>
<line x1="294.45" y1="507.9" x2="297.05" y2="507.9" stroke="#000" stroke-width="1.0"/>
<text x="294.05" y="510.52799999999996" font-size="7.3" text-anchor="end" font-weight="normal" fill="#000">30</text>
<line x1="294.45" y1="539.3" x2="297.05" y2="539.3" stroke="#000" stroke-width="1.0"/>
<text x="294.05" y="541.928" font-size="7.3" text-anchor="end" font-weight="normal" fill="#000">20</text>
<line x1="294.45" y1="570.5" x2="297.05" y2="570.5" stroke="#000" stroke-width="1.0"/>
<text x="294.05" y="573.128" font-size="7.3" text-anchor="end" font-weight="normal" fill="#000">10</text>
<line x1="294.45" y1="601.25" x2="297.05" y2="601.25" stroke="#000" stroke-width="1.0"/>
<text x="294.05" y="603.878" font-size="7.3" text-anchor="end" font-weight="normal" fill="#000">0</text>
<text x="269.6" y="536.8" font-size="10" text-anchor="middle" font-weight="normal" fill="#000" transform="rotate(-90 269.6 536.8)" textLength="63.85" lengthAdjust="spacingAndGlyphs">% Micronuclei</text>
<line x1="313.5" y1="598.25" x2="313.5" y2="595.75" stroke="#000" stroke-width="0.7"/>
<line x1="309.875" y1="595.75" x2="317.125" y2="595.75" stroke="#000" stroke-width="0.7"/>
<rect x="306.75" y="598.75" width="13.5" height="2.5" fill="#000" stroke="#000" stroke-width="1.0"/>
<line x1="333.125" y1="562.5" x2="333.125" y2="554.3" stroke="#000" stroke-width="0.7"/>
<line x1="329.4375" y1="554.3" x2="336.8125" y2="554.3" stroke="#000" stroke-width="0.7"/>
<rect x="326.25" y="563.0" width="13.75" height="38.25" fill="#000" stroke="#000" stroke-width="1.0"/>
<line x1="365.75" y1="598.25" x2="365.75" y2="596.5" stroke="#000" stroke-width="0.7"/>
<line x1="362.125" y1="596.5" x2="369.375" y2="596.5" stroke="#000" stroke-width="0.7"/>
<rect x="359.0" y="598.75" width="13.5" height="2.5" fill="#999999" stroke="#000" stroke-width="1.0"/>
<line x1="385.625" y1="542" x2="385.625" y2="531.25" stroke="#000" stroke-width="0.7"/>
<line x1="381.9375" y1="531.25" x2="389.3125" y2="531.25" stroke="#000" stroke-width="0.7"/>
<rect x="378.75" y="542.5" width="13.75" height="58.75" fill="#999999" stroke="#000" stroke-width="1.0"/>
<rect x="411.75" y="599.25" width="13.5" height="2.0" fill="#fff" stroke="#000" stroke-width="1.0"/>
<line x1="438.0" y1="515.75" x2="438.0" y2="500" stroke="#000" stroke-width="0.7"/>
<line x1="434.375" y1="500" x2="441.625" y2="500" stroke="#000" stroke-width="0.7"/>
<rect x="431.25" y="516.25" width="13.5" height="85.0" fill="#fff" stroke="#000" stroke-width="1.0"/>
<line x1="313.5" y1="601.25" x2="313.5" y2="605" stroke="#000" stroke-width="1.0"/>
<line x1="333.125" y1="601.25" x2="333.125" y2="605" stroke="#000" stroke-width="1.0"/>
<line x1="365.75" y1="601.25" x2="365.75" y2="605" stroke="#000" stroke-width="1.0"/>
<line x1="385.625" y1="601.25" x2="385.625" y2="605" stroke="#000" stroke-width="1.0"/>
<line x1="418.5" y1="601.25" x2="418.5" y2="605" stroke="#000" stroke-width="1.0"/>
<line x1="438.0" y1="601.25" x2="438.0" y2="605" stroke="#000" stroke-width="1.0"/>
<text x="316.0" y="611.75" font-size="10" text-anchor="end" font-weight="normal" fill="#000" transform="rotate(-45 316.0 611.75)">Control</text>
<text x="335.625" y="611.75" font-size="10" text-anchor="end" font-weight="normal" fill="#000" transform="rotate(-45 335.625 611.75)">IR</text>
<text x="368.25" y="611.75" font-size="10" text-anchor="end" font-weight="normal" fill="#000" transform="rotate(-45 368.25 611.75)">Control</text>
<text x="388.125" y="611.75" font-size="10" text-anchor="end" font-weight="normal" fill="#000" transform="rotate(-45 388.125 611.75)">IR</text>
<text x="421.0" y="611.75" font-size="10" text-anchor="end" font-weight="normal" fill="#000" transform="rotate(-45 421.0 611.75)">Control</text>
<text x="440.5" y="611.75" font-size="10" text-anchor="end" font-weight="normal" fill="#000" transform="rotate(-45 440.5 611.75)">IR</text>
<rect x="434.15" y="469.54999999999995" width="7.45" height="3.7" fill="#000" stroke="#000" stroke-width="0.8"/>
<text x="445" y="474.46" font-size="8.5" text-anchor="start" font-weight="normal" fill="#000" textLength="20" lengthAdjust="spacingAndGlyphs">HL60</text>
<rect x="434.15" y="477.04999999999995" width="7.45" height="3.7" fill="#999999" stroke="#000" stroke-width="0.8"/>
<text x="445" y="481.96" font-size="8.5" text-anchor="start" font-weight="normal" fill="#000" textLength="15.75" lengthAdjust="spacingAndGlyphs">RA5</text>
<rect x="434.15" y="485.25" width="7.45" height="3.7" fill="#fff" stroke="#000" stroke-width="0.8"/>
<text x="445" y="490.16" font-size="8.5" text-anchor="start" font-weight="normal" fill="#000" textLength="17.5" lengthAdjust="spacingAndGlyphs">RG2</text>
<text x="355" y="503" font-size="5" text-anchor="middle" font-weight="normal" fill="#000">*</text>
<text x="410" y="481.6" font-size="5.5" text-anchor="middle" font-weight="normal" fill="#000" textLength="6.6" lengthAdjust="spacingAndGlyphs">***</text>
<text x="456.75" y="511.25" font-size="13" text-anchor="start" font-weight="normal" fill="#000" textLength="57" lengthAdjust="spacingAndGlyphs">Dose (Gy)</text>
<line x1="456.75" y1="512.9" x2="513.75" y2="512.9" stroke="#000" stroke-width="0.8"/>
<text x="456.75" y="524.5" font-size="13" text-anchor="start" font-weight="normal" fill="#000" textLength="57.5" lengthAdjust="spacingAndGlyphs">HL60: 1.49</text>
<text x="456.75" y="538" font-size="13" text-anchor="start" font-weight="normal" fill="#000" textLength="51.5" lengthAdjust="spacingAndGlyphs">RA5: 1.44</text>
<text x="456.75" y="551.25" font-size="13" text-anchor="start" font-weight="normal" fill="#000" textLength="55" lengthAdjust="spacingAndGlyphs">RG2: 1.45</text>
</svg>
</body></html>
